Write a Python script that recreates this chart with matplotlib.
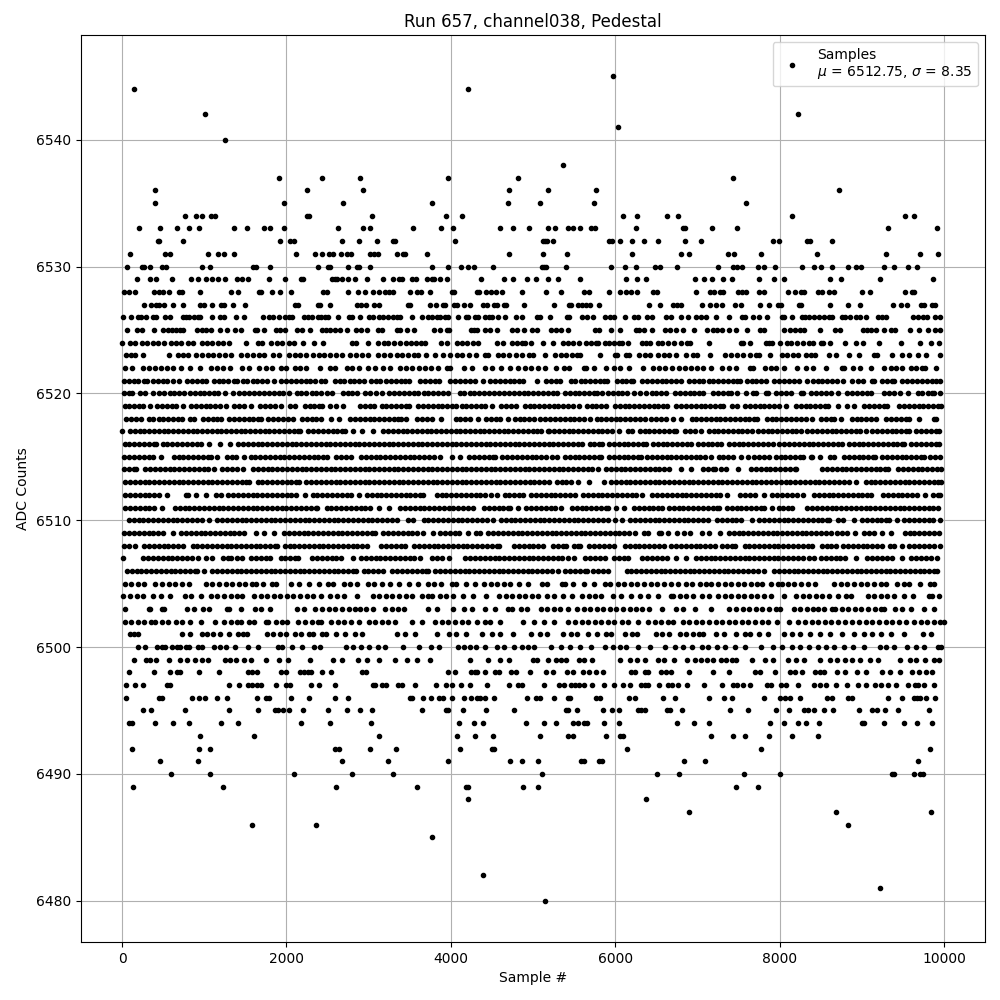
import numpy as np
import matplotlib
matplotlib.use('Agg')
import matplotlib.pyplot as plt

# sample numbers, one list per ADC level
s6545 = [5972]
s6544 = [141, 4214]
s6542 = [1014, 8226]
s6541 = [6032]
s6540 = [1256]
s6538 = [5366]
s6537 = [1911, 2432, 2893, 3971, 4820, 7438]
s6536 = [396, 2250, 2929, 4711, 5184, 5766, 8723]
s6535 = [396, 1972, 2687, 3765, 4699, 5090, 5741, 7596]
s6534 = [760, 905, 978, 1087, 1135, 2250, 2275, 3038, 3935, 4141, 6093, 6263, 6626, 6760, 8153, 9523, 9632]
s6533 = [202, 457, 663, 820, 941, 1366, 1523, 1729, 1802, 1972, 2626, 2929, 3014, 3535, 3886, 4032, 4602, 4759, 4953, 5184, 5269, 5426, 5487, 5572, 5705, 5754, 6250, 6820, 6844, 7172, 7487, 9317, 9911]
s6532 = [432, 448, 735, 1923, 2044, 2093, 2674, 2881, 3099, 3293, 3317, 4056, 5123, 5147, 5172, 5245, 5923, 5960, 6057, 6202, 6347, 6517, 6844, 7038, 7923, 7996, 8335, 8371, 8638]
s6531 = [93, 517, 578, 1050, 1172, 1244, 1366, 2117, 2347, 2432, 2517, 2565, 2662, 2735, 2784, 3014, 3062, 3111, 3341, 3414, 3438, 3705, 4711, 5123, 5414, 6202, 6796, 6893, 7366, 7450, 7778, 8456, 9292, 9705, 9923]
s6530 = [57, 238, 263, 335, 481, 529, 978, 1075, 1596, 1632, 1802, 2384, 2505, 2529, 2747, 2856, 2881, 3014, 3765, 3971, 4129, 4214, 4287, 4517, 5111, 5135, 5160, 5402, 5947, 6117, 6250, 6481, 6541, 6747, 7256, 7438, 7487, 7547, 7741, 7814, 7947, 8275, 8420, 8505, 8638, 8832, 8929, 8990, 9268, 9390, 9563, 9668]
s6529 = [178, 335, 408, 602, 844, 929, 1026, 1099, 1172, 1256, 1402, 1462, 1535, 1790, 1984, 2178, 2202, 2553, 2590, 2614, 2674, 2747, 2832, 2978, 3171, 3293, 3365, 3402, 3523, 3571, 3705, 3765, 3801, 3862, 3959, 4371, 4650, 4759, 4929, 5038, 5184, 5305, 5572, 6129, 6263, 6372, 6966, 7075, 7172, 7317, 7426, 7753, 7935, 8056, 8614, 8747, 9220, 9862]
s6528 = [20, 81, 154, 384, 444, 493, 566, 687, 723, 953, 1329, 1414, 1669, 1693, 1826, 1923, 2056, 2444, 2493, 2747, 2868, 2953, 3050, 3123, 3196, 3244, 3293, 3499, 3583, 3632, 3741, 4008, 4044, 4323, 4347, 4432, 4492, 4553, 4626, 4868, 5160, 5342, 5620, 5681, 5923, 6057, 6129, 6190, 6263, 6457, 6505, 6978, 7147, 7196, 7269, 7317, 7499, 7547, 7596, 7753, 7814, 8105, 8190, 8262, 8299, 8469, 8517, 8602, 8662, 9002, 9099, 9523, 9608, 9632]
s6527 = [263, 347, 408, 444, 505, 614, 747, 953, 1002, 1099, 1208, 1244, 1353, 1499, 2105, 2141, 2384, 2408, 2529, 2856, 2905, 2965, 3062, 3123, 3474, 3499, 3741, 3814, 3899, 3923, 4044, 4080, 4165, 4238, 4396, 4444, 4529, 4565, 4650, 4674, 4892, 5257, 5438, 5462, 5548, 5596, 5644, 5693, 5802, 6408, 6541, 6699, 6747, 6796, 7050, 7147, 7220, 7293, 7462, 7535, 7765, 7874, 7983, 8020, 8238, 8262, 8614, 8832, 8978, 9377, 9474, 9547, 9717, 9753, 9850, 9886]
s6526 = [8, 105, 190, 226, 287, 372, 408, 517, 578, 735, 772, 820, 869, 929, 953, 1099, 1196, 1244, 1390, 1487, 1717, 1790, 1838, 1911, 1984, 2032, 2068, 2214, 2262, 2311, 2384, 2420, 2468, 2505, 2626, 2759, 2796, 2893, 3002, 3050, 3123, 3171, 3232, 3293, 3341, 3377, 3523, 3644, 3717, 3765, 3826, 3874, 3923, 3971, 4093, 4190, 4214, 4299, 4335, 4420, 4468, 4505, 4577, 4662, 4796, 4868, 5050, 5086, 5204, 5414, 5438, 5596, 5657, 5729, 5875, 5935, 5984, 6117, 6226, 6275, 6384, 6444, 6614, 6675, 6796, 6881, 6978, 7038, 7099, 7220, 7390, 7547, 7584, 7681, 7753, 7850, 8032, 8056, 8153, 8275, 8311, 8360, 8420, 8481, 8541, 8602, 8642, 8759, 8796, 8856, 8929, 8978, 9050, 9196, 9244, 9292, 9620, 9681, 9741, 9790, 9886, 9947]
s6525 = [57, 178, 238, 384, 493, 553, 602, 650, 699, 747, 917, 978, 1026, 1087, 1196, 1281, 1378, 1450, 1620, 1644, 1729, 1875, 1923, 1984, 2129, 2190, 2287, 2432, 2481, 2529, 2590, 2650, 2735, 2844, 2905, 2978, 3111, 3159, 3341, 3377, 3462, 3547, 3790, 3862, 3959, 3983, 4250, 4287, 4323, 4420, 4480, 4565, 4747, 4808, 4892, 4989, 5050, 5220, 5281, 5342, 5426, 5754, 5802, 5947, 6057, 6250, 6287, 6347, 6444, 6602, 6663, 6735, 6820, 6953, 7111, 7184, 7244, 7293, 7390, 7475, 7608, 7765, 7814, 8056, 8129, 8190, 8250, 8299, 8493, 8675, 8735, 9014, 9062, 9111, 9172, 9268, 9353, 9402, 9584, 9693, 9802, 9886, 9947]
s6524 = [0, 100, 160, 240, 300, 380, 440, 510, 590, 650, 720, 800, 860, 970, 1030, 1100, 1170, 1230, 1295, 1510, 1655, 1705, 1815, 1880, 1950, 2030, 2095, 2200, 2330, 2445, 2800, 2850, 2990, 3110, 3190, 3235, 3310, 3385, 3455, 3510, 3570, 3640, 3690, 3880, 3950, 4080, 4130, 4200, 4270, 4330, 4560, 4630, 4740, 4800, 4860, 4900, 4980, 5125, 5245, 5370, 5420, 5490, 5560, 5640, 5710, 5766, 5795, 5880, 5930, 5990, 6050, 6085, 6158, 6320, 6370, 6425, 6520, 6570, 6640, 6720, 6800, 6870, 6910, 7135, 7530, 7550, 7644, 7830, 7870, 7910, 8008, 8095, 8140, 8210, 8290, 8360, 8405, 8500, 8530, 8614, 8796, 8925, 9010, 9208, 9474, 9705, 9846, 9939]
s6523 = [50, 110, 155, 250, 566, 680, 740, 800, 900, 970, 1040, 1110, 1180, 1250, 1330, 1450, 1520, 1590, 1660, 1730, 1840, 1910, 2030, 2100, 2170, 2240, 2320, 2390, 2460, 2530, 2600, 2675, 2775, 2850, 2920, 2990, 3115, 3190, 3260, 3340, 3410, 3480, 3550, 3605, 3700, 3810, 3899, 3995, 4070, 4140, 4215, 4300, 4415, 4455, 4570, 4640, 4710, 4790, 4860, 4950, 4995, 5150, 5265, 5335, 5400, 5470, 5530, 5575, 5818, 5995, 6020, 6130, 6170, 6290, 6360, 6425, 6520, 6590, 6660, 6745, 6866, 6950, 6990, 7147, 7335, 7410, 7480, 7560, 7640, 7710, 7755, 7887, 8025, 8090, 8160, 8220, 8320, 8380, 8430, 8602, 8683, 8844, 8965, 9150, 9190, 9365, 9490, 9575, 9685, 9786, 9947]
s6522 = [30, 120, 260, 330, 400, 470, 550, 620, 720, 830, 950, 1080, 1150, 1230, 1315, 1455, 1545, 1665, 1745, 1826, 1935, 1990, 2100, 2170, 2235, 2412, 2535, 2595, 2735, 2800, 2880, 2990, 3080, 3170, 3255, 3385, 3460, 3530, 3610, 3690, 3760, 3840, 3950, 3990, 4160, 4255, 4415, 4495, 4605, 4715, 4820, 4900, 4980, 5060, 5140, 5280, 5380, 5443, 5615, 5645, 5737, 5885, 5986, 6060, 6170, 6335, 6462, 6530, 6610, 6690, 6770, 6850, 6920, 7000, 7070, 7170, 7300, 7380, 7465, 7642, 7675, 7824, 7890, 7960, 8058, 8210, 8320, 8402, 8565, 8765, 8785, 8888, 8978, 9110, 9270, 9350, 9420, 9493, 9593, 9660, 9730, 9775, 9907]
s6521 = [24, 81, 146, 198, 262, 309, 377, 433, 495, 548, 617, 689, 792, 851, 912, 968, 1023, 1118, 1177, 1231, 1294, 1356, 1402, 1468, 1521, 1587, 1644, 1702, 1761, 1845, 1937, 1992, 2056, 2113, 2177, 2236, 2291, 2352, 2419, 2472, 2590, 2651, 2702, 2768, 2824, 2881, 2941, 3028, 3089, 3142, 3207, 3266, 3329, 3390, 3448, 3490, 3623, 3688, 3742, 3803, 3851, 3994, 4052, 4116, 4171, 4238, 4296, 4392, 4479, 4538, 4603, 4657, 4716, 4773, 4834, 4882, 5050, 5160, 5219, 5277, 5322, 5458, 5516, 5579, 5632, 5694, 5751, 5812, 5866, 5898, 6017, 6082, 6137, 6192, 6222, 6328, 6391, 6447, 6504, 6567, 6623, 6681, 6744, 6797, 6898, 6955, 7018, 7072, 7136, 7193, 7249, 7312, 7368, 7429, 7485, 7517, 7598, 7659, 7714, 7776, 7836, 7933, 7996, 8052, 8113, 8169, 8240, 8338, 8402, 8461, 8518, 8576, 8635, 8699, 8767, 8884, 8952, 9020, 9128, 9152, 9248, 9306, 9365, 9392, 9490, 9552, 9612, 9670, 9733, 9788, 9849, 9908, 9952]
s6520 = [28, 84, 122, 218, 282, 376, 453, 515, 578, 632, 691, 750, 823, 889, 943, 1002, 1061, 1122, 1173, 1258, 1345, 1423, 1485, 1541, 1604, 1662, 1727, 1785, 1846, 1908, 1962, 2028, 2123, 2181, 2242, 2306, 2361, 2422, 2488, 2552, 2693, 2746, 2801, 2862, 2958, 3020, 3089, 3165, 3248, 3309, 3365, 3428, 3487, 3550, 3604, 3671, 3726, 3783, 3848, 3906, 3970, 4108, 4164, 4228, 4287, 4346, 4402, 4467, 4525, 4583, 4649, 4703, 4768, 4825, 4886, 4941, 5004, 5060, 5122, 5185, 5247, 5290, 5388, 5449, 5506, 5564, 5623, 5684, 5741, 5776, 5845, 5912, 5968, 6029, 6086, 6140, 6228, 6300, 6378, 6442, 6496, 6561, 6618, 6725, 6788, 6852, 6908, 6964, 7024, 7070, 7188, 7246, 7308, 7368, 7412, 7483, 7585, 7675, 7715, 7833, 7855, 7953, 8015, 8073, 8140, 8258, 8280, 8378, 8440, 8499, 8561, 8622, 8715, 8823, 8884, 8945, 9003, 9062, 9115, 9268, 9334, 9390, 9465, 9560, 9678, 9735, 9801, 9854, 9877, 9955]
s6519 = [30, 88, 144, 202, 258, 335, 428, 485, 541, 602, 657, 740, 838, 899, 954, 1017, 1071, 1129, 1187, 1265, 1363, 1426, 1484, 1563, 1683, 1742, 1800, 1856, 1930, 2038, 2100, 2223, 2281, 2339, 2395, 2435, 2525, 2605, 2687, 2898, 2958, 3016, 3065, 3158, 3215, 3276, 3331, 3393, 3451, 3485, 3603, 3664, 3720, 3781, 3839, 3897, 3952, 4014, 4068, 4130, 4188, 4247, 4303, 4364, 4415, 4495, 4608, 4669, 4730, 4798, 4898, 4958, 5016, 5073, 5132, 5190, 5249, 5308, 5365, 5421, 5481, 5555, 5653, 5714, 5772, 5830, 5890, 5998, 6058, 6116, 6172, 6234, 6290, 6351, 6408, 6467, 6526, 6580, 6625, 6743, 6805, 6861, 6922, 6977, 7038, 7096, 7153, 7212, 7270, 7310, 7423, 7485, 7583, 7641, 7700, 7758, 7815, 7872, 7933, 7998, 8078, 8198, 8256, 8315, 8373, 8432, 8490, 8548, 8585, 8713, 8823, 8905, 9028, 9090, 9146, 9204, 9265, 9305, 9458, 9516, 9575, 9633, 9692, 9750, 9809, 9866, 9928, 9960]
s6518 = [48, 104, 168, 230, 322, 381, 443, 500, 561, 623, 681, 725, 823, 880, 983, 1041, 1101, 1159, 1200, 1303, 1362, 1421, 1478, 1541, 1598, 1656, 1685, 1778, 1837, 1896, 1957, 2014, 2085, 2188, 2247, 2306, 2365, 2426, 2545, 2640, 2778, 2836, 2895, 2953, 3012, 3071, 3129, 3188, 3246, 3305, 3363, 3390, 3455, 3593, 3652, 3711, 3770, 3875, 4058, 4117, 4176, 4235, 4335, 4433, 4491, 4550, 4595, 4690, 4778, 4837, 4895, 4953, 5012, 5090, 5150, 5209, 5268, 5327, 5385, 5444, 5503, 5562, 5620, 5695, 5773, 5831, 5890, 5948, 6006, 6064, 6123, 6182, 6241, 6300, 6360, 6438, 6497, 6555, 6613, 6705, 6805, 6928, 6987, 7045, 7104, 7162, 7221, 7280, 7339, 7397, 7456, 7514, 7573, 7632, 7690, 7727, 7843, 7902, 7961, 8020, 8079, 8138, 8197, 8256, 8315, 8390, 8503, 8561, 8620, 8665, 8745, 8878, 8937, 8996, 9055, 9110, 9170, 9298, 9357, 9416, 9475, 9534, 9580, 9697, 9876, 9900]
s6517 = [0, 98, 155, 213, 272, 330, 389, 447, 505, 564, 622, 681, 740, 798, 857, 915, 974, 1033, 1091, 1150, 1208, 1267, 1325, 1384, 1442, 1501, 1559, 1617, 1676, 1735, 1793, 1852, 1911, 1969, 2028, 2086, 2145, 2170, 2268, 2327, 2386, 2445, 2503, 2561, 2620, 2679, 2715, 2808, 2920, 3050, 3178, 3237, 3295, 3354, 3412, 3471, 3529, 3588, 3647, 3706, 3764, 3822, 3880, 3939, 3998, 4057, 4115, 4174, 4233, 4291, 4349, 4408, 4466, 4525, 4584, 4642, 4701, 4759, 4818, 4876, 4935, 4994, 5052, 5100, 5185, 5198, 5257, 5316, 5374, 5433, 5492, 5550, 5609, 5668, 5726, 5785, 5844, 5903, 5961, 6040, 6150, 6200, 6298, 6357, 6416, 6475, 6534, 6592, 6651, 6710, 6745, 6853, 6912, 6970, 7040, 7138, 7197, 7255, 7314, 7372, 7431, 7490, 7548, 7607, 7664, 7735, 7794, 7853, 7911, 7970, 8029, 8087, 8146, 8205, 8260, 8338, 8397, 8456, 8514, 8573, 8632, 8690, 8749, 8807, 8866, 8925, 8984, 9050, 9128, 9187, 9246, 9305, 9363, 9421, 9480, 9539, 9575, 9664, 9723, 9782, 9841, 9899, 9935]
s6516 = [30, 89, 148, 207, 266, 325, 384, 415, 493, 552, 611, 670, 729, 788, 847, 906, 965, 1060, 1190, 1315, 1413, 1472, 1531, 1590, 1649, 1708, 1767, 1826, 1885, 1944, 2003, 2062, 2121, 2180, 2239, 2298, 2357, 2416, 2475, 2534, 2593, 2652, 2711, 2770, 2829, 2888, 2947, 3006, 3065, 3124, 3183, 3242, 3301, 3360, 3419, 3478, 3537, 3596, 3655, 3714, 3773, 3832, 3891, 3950, 4009, 4068, 4127, 4186, 4245, 4304, 4363, 4422, 4481, 4540, 4599, 4658, 4717, 4776, 4835, 4894, 4953, 5012, 5071, 5130, 5189, 5248, 5307, 5366, 5425, 5484, 5543, 5595, 5687, 5746, 5805, 5837, 5925, 5984, 6043, 6102, 6161, 6220, 6279, 6338, 6380, 6458, 6517, 6576, 6635, 6694, 6753, 6812, 6871, 6927, 7005, 7064, 7123, 7182, 7241, 7290, 7383, 7442, 7501, 7560, 7619, 7678, 7737, 7796, 7855, 7920, 7998, 8057, 8116, 8175, 8234, 8293, 8352, 8411, 8470, 8529, 8588, 8647, 8706, 8765, 8843, 8902, 8961, 9020, 9079, 9138, 9197, 9256, 9315, 9374, 9433, 9492, 9515, 9603, 9662, 9721, 9780, 9839, 9898, 9935]
s6515 = [28, 87, 146, 205, 264, 323, 382, 470, 628, 687, 746, 805, 864, 923, 982, 1041, 1080, 1160, 1273, 1332, 1391, 1485, 1563, 1622, 1681, 1740, 1799, 1858, 1917, 1976, 2035, 2094, 2153, 2212, 2271, 2330, 2389, 2448, 2495, 2603, 2662, 2721, 2780, 2908, 2967, 3026, 3085, 3144, 3203, 3262, 3321, 3380, 3439, 3498, 3557, 3616, 3675, 3734, 3790, 3870, 4008, 4110, 4223, 4282, 4341, 4400, 4459, 4518, 4535, 4628, 4687, 4746, 4805, 4864, 4923, 4982, 5041, 5100, 5159, 5235, 5290, 5388, 5447, 5506, 5565, 5624, 5683, 5742, 5801, 5830, 5930, 5985, 6043, 6102, 6161, 6220, 6279, 6310, 6388, 6447, 6506, 6565, 6624, 6683, 6742, 6801, 6860, 6919, 6978, 7037, 7096, 7160, 7258, 7317, 7376, 7435, 7535, 7610, 7693, 7752, 7811, 7875, 7953, 8012, 8071, 8130, 8189, 8248, 8280, 8380, 8400, 8490, 8608, 8665, 8783, 8842, 8901, 8960, 9019, 9078, 9137, 9160, 9248, 9307, 9366, 9425, 9484, 9543, 9602, 9661, 9720, 9755, 9833, 9892, 9950]
s6514 = [28, 87, 146, 170, 283, 342, 401, 460, 519, 578, 637, 696, 755, 814, 873, 932, 991, 1050, 1120, 1218, 1277, 1336, 1395, 1475, 1593, 1652, 1711, 1770, 1829, 1888, 1947, 2006, 2065, 2124, 2183, 2242, 2301, 2360, 2419, 2478, 2537, 2596, 2655, 2714, 2773, 2832, 2891, 2950, 3009, 3068, 3127, 3186, 3245, 3304, 3363, 3422, 3481, 3540, 3599, 3658, 3717, 3776, 3835, 3894, 3953, 4012, 4071, 4130, 4189, 4248, 4307, 4366, 4425, 4484, 4543, 4602, 4661, 4720, 4779, 4838, 4897, 4956, 5015, 5074, 5133, 5192, 5251, 5310, 5369, 5428, 5487, 5546, 5605, 5664, 5723, 5790, 5888, 5947, 6006, 6065, 6124, 6183, 6242, 6301, 6360, 6419, 6478, 6537, 6596, 6650, 6805, 6925, 7068, 7127, 7186, 7210, 7288, 7347, 7495, 7653, 7712, 7771, 7830, 7889, 7948, 8007, 8066, 8125, 8184, 8200, 8518, 8577, 8636, 8695, 8754, 8813, 8872, 8931, 8990, 9049, 9108, 9167, 9226, 9285, 9320, 9443, 9502, 9561, 9620, 9679, 9738, 9797, 9856, 9915, 9960]
s6513 = [38, 97, 156, 215, 274, 333, 392, 451, 510, 569, 628, 687, 746, 805, 864, 923, 982, 1041, 1100, 1159, 1218, 1277, 1336, 1395, 1454, 1513, 1545, 1648, 1707, 1766, 1825, 1884, 1943, 2002, 2061, 2120, 2150, 2243, 2302, 2361, 2420, 2479, 2538, 2597, 2656, 2715, 2774, 2833, 2892, 2951, 3010, 3069, 3128, 3187, 3246, 3305, 3364, 3423, 3482, 3541, 3600, 3659, 3718, 3777, 3836, 3895, 3954, 4013, 4072, 4131, 4190, 4249, 4308, 4367, 4426, 4485, 4544, 4603, 4662, 4721, 4780, 4839, 4898, 4957, 5016, 5075, 5134, 5200, 5288, 5347, 5406, 5465, 5545, 5685, 5858, 5948, 6007, 6066, 6125, 6184, 6243, 6302, 6361, 6420, 6479, 6538, 6597, 6656, 6715, 6774, 6833, 6892, 6951, 7010, 7069, 7128, 7187, 7246, 7305, 7364, 7423, 7482, 7541, 7600, 7659, 7718, 7777, 7836, 7895, 7954, 8013, 8072, 8131, 8190, 8249, 8308, 8367, 8426, 8485, 8544, 8603, 8662, 8721, 8780, 8839, 8930, 9048, 9107, 9166, 9225, 9284, 9343, 9402, 9461, 9520, 9579, 9638, 9697, 9756, 9815, 9874, 9933, 9960]
s6512 = [38, 97, 156, 215, 274, 333, 392, 451, 550, 780, 800, 900, 1020, 1140, 1200, 1293, 1352, 1411, 1470, 1529, 1588, 1647, 1706, 1765, 1824, 1883, 1942, 2001, 2060, 2119, 2220, 2318, 2377, 2436, 2495, 2554, 2613, 2672, 2731, 2790, 2880, 2978, 3037, 3096, 3155, 3214, 3273, 3332, 3391, 3450, 3509, 3568, 3627, 3665, 3828, 3887, 3946, 4005, 4064, 4123, 4182, 4241, 4300, 4359, 4418, 4490, 4565, 4653, 4712, 4771, 4830, 4880, 4978, 5037, 5096, 5155, 5214, 5273, 5332, 5391, 5450, 5515, 5608, 5667, 5726, 5785, 5844, 5903, 5962, 6021, 6080, 6139, 6198, 6257, 6330, 6453, 6512, 6571, 6630, 6689, 6748, 6807, 6866, 6925, 6984, 7043, 7102, 7161, 7220, 7279, 7365, 7518, 7577, 7636, 7695, 7815, 7913, 7972, 8031, 8090, 8149, 8208, 8290, 8418, 8477, 8536, 8595, 8654, 8713, 8772, 8831, 8890, 8949, 9008, 9067, 9115, 9258, 9317, 9376, 9435, 9494, 9553, 9612, 9675, 9765, 9863, 9922, 9950]
s6511 = [38, 97, 156, 215, 274, 333, 392, 480, 643, 702, 761, 820, 879, 938, 997, 1056, 1115, 1174, 1233, 1292, 1351, 1410, 1469, 1528, 1587, 1646, 1705, 1764, 1823, 1882, 1941, 2000, 2059, 2118, 2177, 2236, 2295, 2354, 2370, 2488, 2547, 2606, 2665, 2724, 2783, 2842, 2901, 2960, 3020, 3125, 3245, 3383, 3442, 3501, 3560, 3619, 3678, 3737, 3796, 3855, 3914, 3973, 4032, 4091, 4150, 4209, 4268, 4403, 4462, 4521, 4580, 4639, 4698, 4720, 4820, 4918, 4977, 5036, 5095, 5154, 5213, 5272, 5345, 5473, 5532, 5591, 5650, 5709, 5768, 5827, 5886, 5910, 6010, 6110, 6228, 6287, 6346, 6405, 6464, 6523, 6570, 6653, 6712, 6771, 6830, 6889, 6948, 7007, 7066, 7125, 7184, 7243, 7260, 7358, 7417, 7476, 7535, 7594, 7653, 7712, 7771, 7815, 7905, 7988, 8047, 8106, 8145, 8338, 8397, 8456, 8515, 8574, 8633, 8692, 8751, 8810, 8869, 8928, 8987, 9046, 9105, 9164, 9223, 9282, 9341, 9400, 9459, 9518, 9577, 9636, 9695, 9754, 9813, 9872, 9931]
s6510 = [83, 142, 201, 260, 319, 378, 437, 496, 555, 614, 673, 732, 791, 850, 909, 968, 1060, 1158, 1217, 1276, 1335, 1394, 1453, 1512, 1571, 1630, 1689, 1748, 1807, 1866, 1925, 1984, 2043, 2102, 2161, 2220, 2279, 2338, 2397, 2456, 2515, 2574, 2633, 2692, 2751, 2810, 2869, 2928, 2987, 3046, 3105, 3164, 3223, 3282, 3345, 3475, 3545, 3668, 3727, 3786, 3845, 3904, 3963, 4022, 4081, 4140, 4199, 4258, 4317, 4376, 4435, 4515, 4608, 4667, 4726, 4785, 4844, 4903, 4962, 5021, 5080, 5139, 5198, 5257, 5316, 5375, 5434, 5493, 5552, 5611, 5670, 5729, 5788, 5847, 5915, 6000, 6085, 6183, 6242, 6301, 6360, 6419, 6478, 6537, 6596, 6655, 6714, 6773, 6832, 6891, 6950, 7009, 7068, 7130, 7238, 7297, 7356, 7415, 7474, 7533, 7665, 7753, 7812, 7871, 7930, 7989, 8048, 8107, 8166, 8225, 8284, 8343, 8402, 8461, 8520, 8579, 8605, 8708, 8767, 8900, 9003, 9062, 9121, 9180, 9239, 9298, 9325, 9428, 9518, 9577, 9636, 9695, 9754, 9813, 9872, 9955]
s6509 = [28, 87, 146, 205, 264, 323, 382, 441, 500, 620, 718, 777, 836, 895, 954, 1013, 1072, 1131, 1190, 1249, 1308, 1367, 1426, 1485, 1625, 1725, 1850, 1973, 2032, 2091, 2150, 2209, 2268, 2327, 2386, 2445, 2504, 2563, 2622, 2681, 2740, 2799, 2858, 2917, 2976, 3035, 3080, 3178, 3237, 3296, 3355, 3414, 3473, 3532, 3591, 3660, 3785, 3868, 3927, 3986, 4045, 4104, 4210, 4310, 4355, 4458, 4517, 4576, 4635, 4694, 4753, 4812, 4871, 4930, 4989, 5048, 5107, 5166, 5225, 5284, 5343, 5402, 5461, 5520, 5579, 5638, 5697, 5756, 5815, 5874, 5933, 5992, 6051, 6110, 6169, 6240, 6350, 6400, 6535, 6555, 6640, 6755, 6833, 6905, 7060, 7140, 7270, 7383, 7442, 7501, 7560, 7619, 7678, 7737, 7796, 7855, 7914, 7973, 8032, 8091, 8150, 8209, 8268, 8327, 8386, 8445, 8504, 8563, 8625, 8703, 8762, 8821, 8915, 9028, 9087, 9146, 9240, 9355, 9523, 9582, 9641, 9700, 9759, 9818, 9877, 9935]
s6508 = [28, 87, 160, 268, 327, 386, 445, 504, 563, 622, 681, 740, 858, 917, 976, 1035, 1094, 1153, 1212, 1271, 1330, 1389, 1448, 1507, 1566, 1625, 1684, 1743, 1802, 1861, 1890, 1978, 2037, 2096, 2155, 2214, 2273, 2332, 2391, 2450, 2509, 2568, 2627, 2686, 2745, 2804, 2863, 2922, 2980, 3153, 3212, 3271, 3330, 3390, 3445, 3553, 3612, 3671, 3730, 3789, 3848, 3907, 3966, 4025, 4084, 4143, 4202, 4261, 4320, 4379, 4438, 4497, 4556, 4590, 4768, 4827, 4886, 4945, 5004, 5063, 5122, 5243, 5302, 5361, 5395, 5493, 5552, 5575, 5683, 5742, 5801, 5860, 5919, 5980, 6118, 6177, 6236, 6295, 6354, 6413, 6472, 6531, 6590, 6683, 6742, 6801, 6860, 6919, 6978, 7037, 7096, 7155, 7210, 7298, 7357, 7416, 7455, 7573, 7632, 7691, 7750, 7809, 7868, 7927, 7986, 8045, 8104, 8163, 8222, 8281, 8340, 8400, 8513, 8572, 8631, 8685, 8773, 8832, 8891, 8950, 9009, 9068, 9127, 9186, 9250, 9338, 9397, 9495, 9578, 9637, 9696, 9755, 9814, 9873, 9950]
s6507 = [10, 258, 317, 376, 435, 494, 553, 612, 671, 730, 789, 848, 920, 1018, 1090, 1228, 1287, 1325, 1403, 1462, 1565, 1625, 1685, 1750, 1800, 1928, 1987, 2046, 2105, 2140, 2313, 2372, 2431, 2490, 2549, 2608, 2660, 2815, 2908, 2967, 3026, 3085, 3144, 3203, 3262, 3321, 3380, 3439, 3498, 3557, 3625, 3773, 3832, 3891, 3980, 4178, 4237, 4296, 4355, 4414, 4473, 4532, 4591, 4650, 4709, 4768, 4827, 4886, 4945, 5004, 5063, 5122, 5181, 5240, 5299, 5350, 5430, 5495, 5633, 5692, 5751, 5810, 5875, 5983, 6042, 6101, 6150, 6328, 6387, 6446, 6505, 6564, 6635, 6740, 6855, 6983, 7042, 7101, 7160, 7219, 7278, 7337, 7396, 7455, 7514, 7573, 7632, 7691, 7750, 7809, 7868, 7927, 7986, 8045, 8104, 8163, 8222, 8281, 8360, 8420, 8503, 8562, 8621, 8680, 8739, 8795, 8930, 9068, 9127, 9186, 9245, 9304, 9370, 9495, 9603, 9662, 9721, 9780, 9839, 9910]
s6506 = [58, 117, 176, 235, 294, 353, 412, 471, 530, 589, 648, 707, 766, 825, 884, 910, 1000, 1098, 1157, 1216, 1275, 1334, 1393, 1452, 1511, 1570, 1629, 1688, 1747, 1806, 1865, 1924, 1983, 2042, 2101, 2160, 2219, 2278, 2337, 2396, 2455, 2514, 2573, 2632, 2691, 2750, 2809, 2840, 2938, 2997, 3056, 3115, 3170, 3285, 3348, 3407, 3466, 3525, 3584, 3643, 3702, 3725, 3813, 3872, 3931, 3990, 4049, 4108, 4167, 4226, 4285, 4344, 4403, 4462, 4521, 4580, 4639, 4698, 4757, 4816, 4875, 4934, 4993, 5052, 5111, 5170, 5228, 5305, 5393, 5452, 5511, 5570, 5629, 5655, 5733, 5792, 5851, 5915, 6138, 6197, 6256, 6315, 6374, 6433, 6492, 6551, 6610, 6669, 6728, 6787, 6846, 6905, 6964, 7023, 7082, 7141, 7200, 7259, 7318, 7377, 7436, 7495, 7554, 7613, 7672, 7731, 7810, 7933, 7992, 8051, 8110, 8169, 8228, 8287, 8346, 8405, 8464, 8523, 8582, 8641, 8700, 8759, 8818, 8877, 8936, 8995, 9054, 9113, 9172, 9231, 9290, 9349, 9408, 9467, 9526, 9585, 9644, 9703, 9762, 9821, 9880, 9915]
s6505 = [30, 110, 190, 270, 405, 485, 565, 645, 725, 820, 1020, 1100, 1180, 1260, 1340, 1420, 1500, 1580, 1635, 1715, 1820, 1870, 2060, 2150, 2280, 2390, 2505, 2570, 2695, 2775, 2855, 2990, 3070, 3160, 3255, 3370, 3495, 3595, 3725, 3800, 3880, 4020, 4065, 4180, 4295, 4405, 4485, 4565, 4645, 4725, 4830, 4940, 5110, 5170, 5350, 5385, 5485, 5615, 5740, 5880, 5935, 6030, 6110, 6190, 6270, 6350, 6430, 6510, 6590, 6675, 6765, 6860, 6930, 7030, 7105, 7165, 7250, 7330, 7410, 7490, 7570, 7650, 7730, 7785, 7895, 7975, 8025, 8100, 8180, 8260, 8340, 8430, 8665, 8745, 8825, 8905, 8985, 9065, 9145, 9230, 9300, 9430, 9510, 9575, 9705, 9825, 9875]
s6504 = [10, 95, 180, 260, 375, 470, 578, 760, 840, 955, 1080, 1160, 1240, 1320, 1400, 1455, 1605, 1685, 1765, 1845, 1925, 2005, 2085, 2165, 2245, 2325, 2415, 2535, 2615, 2695, 2860, 3050, 3130, 3210, 3290, 3370, 3450, 3530, 3645, 3720, 3770, 3865, 3945, 4025, 4150, 4270, 4425, 4585, 4665, 4745, 4825, 4905, 4985, 5065, 5170, 5250, 5370, 5475, 5595, 5675, 5755, 5825, 5970, 6075, 6190, 6300, 6395, 6525, 6675, 6705, 6785, 6865, 6945, 7050, 7140, 7250, 7330, 7410, 7490, 7570, 7650, 7730, 7810, 7900, 8055, 8200, 8280, 8360, 8440, 8520, 8600, 8705, 8805, 8865, 9070, 9150, 9230, 9310, 9390, 9515, 9625, 9815, 9855, 9945]
s6503 = [30, 325, 345, 485, 510, 785, 870, 980, 1060, 1280, 1305, 1445, 1620, 1685, 1805, 2130, 2215, 2345, 2435, 2515, 2595, 2675, 2755, 2835, 2900, 2970, 3050, 3200, 3280, 3360, 3425, 3720, 3830, 4030, 4165, 4255, 4415, 4535, 4690, 4750, 4850, 4925, 5100, 5170, 5250, 5330, 5425, 5535, 5615, 5695, 5775, 5855, 5935, 6015, 6095, 6175, 6255, 6320, 6415, 6570, 6745, 6825, 6965, 7160, 7390, 7470, 7550, 7630, 7710, 7790, 7870, 7950, 8000, 8170, 8250, 8330, 8410, 8465, 8545, 8635, 8675, 8755, 8835, 8915, 8995, 9075, 9155, 9235, 9270, 9405, 9485, 9595, 9755, 9875]
s6502 = [30, 110, 190, 270, 350, 400, 485, 555, 660, 725, 825, 960, 1130, 1240, 1320, 1400, 1445, 1545, 1605, 1745, 1770, 1870, 1950, 2010, 2145, 2225, 2305, 2385, 2415, 2545, 2625, 2705, 2785, 2880, 3000, 3080, 3160, 3240, 3325, 3530, 3650, 3810, 3890, 3970, 4050, 4130, 4210, 4315, 4420, 4475, 4595, 4880, 5010, 5130, 5250, 5430, 5510, 5590, 5670, 5750, 5830, 5910, 5980, 6080, 6160, 6280, 6400, 6480, 6560, 6640, 6705, 6820, 6900, 6980, 7060, 7140, 7220, 7300, 7380, 7460, 7540, 7620, 7700, 7780, 7860, 7970, 8110, 8220, 8310, 8390, 8470, 8550, 8630, 8710, 8790, 8885, 8970, 9050, 9130, 9210, 9290, 9370, 9450, 9535, 9635, 9715, 9795, 9875, 9950, 9999]
s6501 = [93, 141, 190, 723, 832, 978, 1038, 1111, 1196, 1305, 1414, 1475, 1523, 1765, 1838, 1923, 1996, 2105, 2178, 2275, 2323, 2432, 2481, 2602, 2711, 2832, 2917, 3341, 3438, 3559, 3826, 3983, 4068, 4190, 4383, 4505, 4602, 4759, 4977, 5086, 5172, 5366, 5463, 5535, 5669, 5778, 5887, 5947, 6117, 6202, 6263, 6493, 6566, 6650, 6784, 6857, 6941, 7014, 7063, 7232, 7329, 7475, 7584, 7644, 7753, 7862, 8056, 8153, 8250, 8371, 8493, 8614, 8760, 8905, 9026, 9123, 9232, 9353, 9511, 9741, 9838]
s6500 = [190, 275, 420, 481, 517, 602, 663, 699, 772, 820, 929, 978, 1123, 1196, 1269, 1378, 1535, 1656, 1899, 1947, 2068, 2190, 2335, 2408, 2723, 2808, 2905, 3002, 3111, 3196, 3414, 3608, 3753, 3850, 4093, 4165, 4238, 4311, 4420, 4565, 4650, 4771, 4868, 4941, 5014, 5220, 5342, 5450, 5572, 5705, 5875, 5972, 6057, 6129, 6275, 6420, 6602, 6723, 6820, 6929, 7050, 7123, 7244, 7341, 7462, 7584, 7778, 7923, 8032, 8153, 8250, 8360, 8469, 8566, 8662, 8784, 8893, 9026, 9220, 9292, 9390, 9547, 9656, 9753, 9923, 9960]
s6499 = [141, 287, 335, 408, 566, 699, 784, 893, 978, 1050, 1256, 1317, 1390, 1487, 1572, 1753, 1911, 2020, 2287, 2565, 2674, 2868, 2978, 3123, 3317, 3462, 3583, 3741, 4238, 4456, 4602, 4711, 5002, 5050, 5180, 5281, 5342, 5402, 5560, 5620, 5717, 6057, 6178, 6263, 6360, 6517, 6590, 6711, 6869, 6966, 7038, 7111, 7184, 7281, 7353, 7426, 7475, 7669, 7826, 7923, 8105, 8202, 8291, 8493, 8614, 8699, 8796, 8881, 8978, 9099, 9196, 9462, 9584, 9656, 9765, 9874, 9935]
s6498 = [81, 384, 578, 663, 699, 941, 1184, 1535, 1584, 1644, 1935, 1996, 2165, 2214, 2262, 2299, 2432, 2541, 2917, 2965, 3971, 4056, 4250, 4299, 4323, 4420, 4541, 4590, 4735, 4796, 4965, 5159, 5245, 5414, 5487, 5608, 5681, 5766, 5850, 6190, 6238, 6360, 6396, 6553, 6614, 6675, 6893, 7184, 7390, 7705, 7765, 7947, 8129, 8190, 8275, 8432, 8493, 8541, 8699, 8796, 8941, 9050, 9244, 9341, 9462, 9608, 9693, 9778, 9850]
s6497 = [44, 154, 250, 541, 578, 1305, 1426, 1535, 1584, 1644, 1693, 1875, 1996, 2044, 2299, 2396, 2590, 3050, 3074, 3159, 3208, 3353, 3402, 3559, 3814, 3935, 4020, 4129, 4238, 4444, 4711, 4820, 4868, 5135, 5317, 5378, 5462, 5511, 5560, 5620, 5717, 5863, 5984, 6093, 6178, 6311, 6360, 6396, 6529, 6638, 6687, 6760, 6869, 7075, 7305, 7438, 7487, 7560, 7644, 7850, 7899, 8020, 8081, 8226, 8420, 8493, 8566, 8687, 8820, 8949, 9050, 9159, 9232, 9317, 9414, 9559, 9644, 9680, 9753, 9874]
s6496 = [44, 444, 481, 856, 941, 1014, 1160, 1281, 1644, 1753, 1790, 2056, 2275, 2590, 2747, 3499, 3523, 3656, 3753, 3850, 3899, 4008, 4165, 4250, 4323, 4359, 4420, 4529, 4929, 5038, 5090, 5257, 5426, 5450, 5766, 5814, 6166, 6238, 6578, 6723, 7135, 7329, 7426, 7814, 8008, 8068, 8129, 8250, 8578, 8638, 8832, 8881, 9317, 9487, 9632, 9668, 9705, 9778, 9886]
s6495 = [250, 347, 760, 1305, 1656, 1862, 1899, 1959, 2032, 2202, 2505, 2735, 2893, 3038, 3644, 3947, 3971, 4153, 4432, 4771, 5402, 5426, 5535, 5850, 5960, 6044, 6275, 6311, 6360, 6626, 6663, 6808, 7402, 7620, 7959, 8117, 8299, 8347, 8420, 8541, 8650, 8965, 9123, 9184, 9280, 9438, 9814]
s6494 = [81, 117, 396, 614, 808, 1208, 1414, 2178, 2529, 3026, 4105, 4287, 4396, 4917, 5135, 5281, 5487, 5548, 5620, 5657, 5863, 6044, 6747, 6953, 7135, 7887, 8056, 8226, 8323, 8481, 9002, 9026, 9268, 9511, 9668, 9850]
s6493 = [953, 1608, 3123, 4080, 4299, 4517, 5086, 5426, 5487, 5887, 6057, 6093, 7160, 7438, 7584, 7874, 8153, 8469]
s6492 = [117, 941, 1075, 2590, 2638, 3014, 3329, 4117, 4505, 4529, 6141, 7778, 9826]
s6491 = [457, 929, 2674, 3232, 3971, 4723, 4868, 5062, 5584, 5620, 5802, 5838, 6832, 7087, 9680]
s6490 = [590, 1075, 2093, 2796, 3293, 5105, 6505, 6772, 7572, 8008, 9365, 9389, 9632, 9705, 9741]
s6489 = [129, 1232, 2602, 3583, 4190, 4214, 4880, 5062, 7475, 7741]
s6488 = [4214, 6372]
s6487 = [6893, 8687, 9838]
s6486 = [1584, 2359, 8832]
s6485 = [3765]
s6482 = [4396]
s6481 = [9223]
s6480 = [5147]

levels = [6545, 6544, 6542, 6541, 6540, 6538, 6537, 6536, 6535, 6534, 6533, 6532, 6531, 6530, 6529, 6528, 6527, 6526, 6525, 6524, 6523, 6522, 6521, 6520, 6519, 6518, 6517, 6516, 6515, 6514, 6513, 6512, 6511, 6510, 6509, 6508, 6507, 6506, 6505, 6504, 6503, 6502, 6501, 6500, 6499, 6498, 6497, 6496, 6495, 6494, 6493, 6492, 6491, 6490, 6489, 6488, 6487, 6486, 6485, 6482, 6481, 6480]
rows = [s6545, s6544, s6542, s6541, s6540, s6538, s6537, s6536, s6535, s6534, s6533, s6532, s6531, s6530, s6529, s6528, s6527, s6526, s6525, s6524, s6523, s6522, s6521, s6520, s6519, s6518, s6517, s6516, s6515, s6514, s6513, s6512, s6511, s6510, s6509, s6508, s6507, s6506, s6505, s6504, s6503, s6502, s6501, s6500, s6499, s6498, s6497, s6496, s6495, s6494, s6493, s6492, s6491, s6490, s6489, s6488, s6487, s6486, s6485, s6482, s6481, s6480]

x = []
y = []
for level, row in zip(levels, rows):
    x.extend(row)
    y.extend([level] * len(row))
x = np.array(x)
y = np.array(y)

plt.figure(figsize=(10, 10))
plt.plot(x, y, 'k.', label='Samples\n$\\mu$ = 6512.75, $\\sigma$ = 8.35')
plt.title('Run 657, channel038, Pedestal')
plt.xlabel('Sample #')
plt.ylabel('ADC Counts')
plt.legend(loc='upper right')
plt.grid(True)
plt.gca().ticklabel_format(useOffset=False, style='plain')
plt.subplots_adjust(left=0.081, right=0.985, top=0.965, bottom=0.058)
plt.savefig('out.png', dpi=100)
